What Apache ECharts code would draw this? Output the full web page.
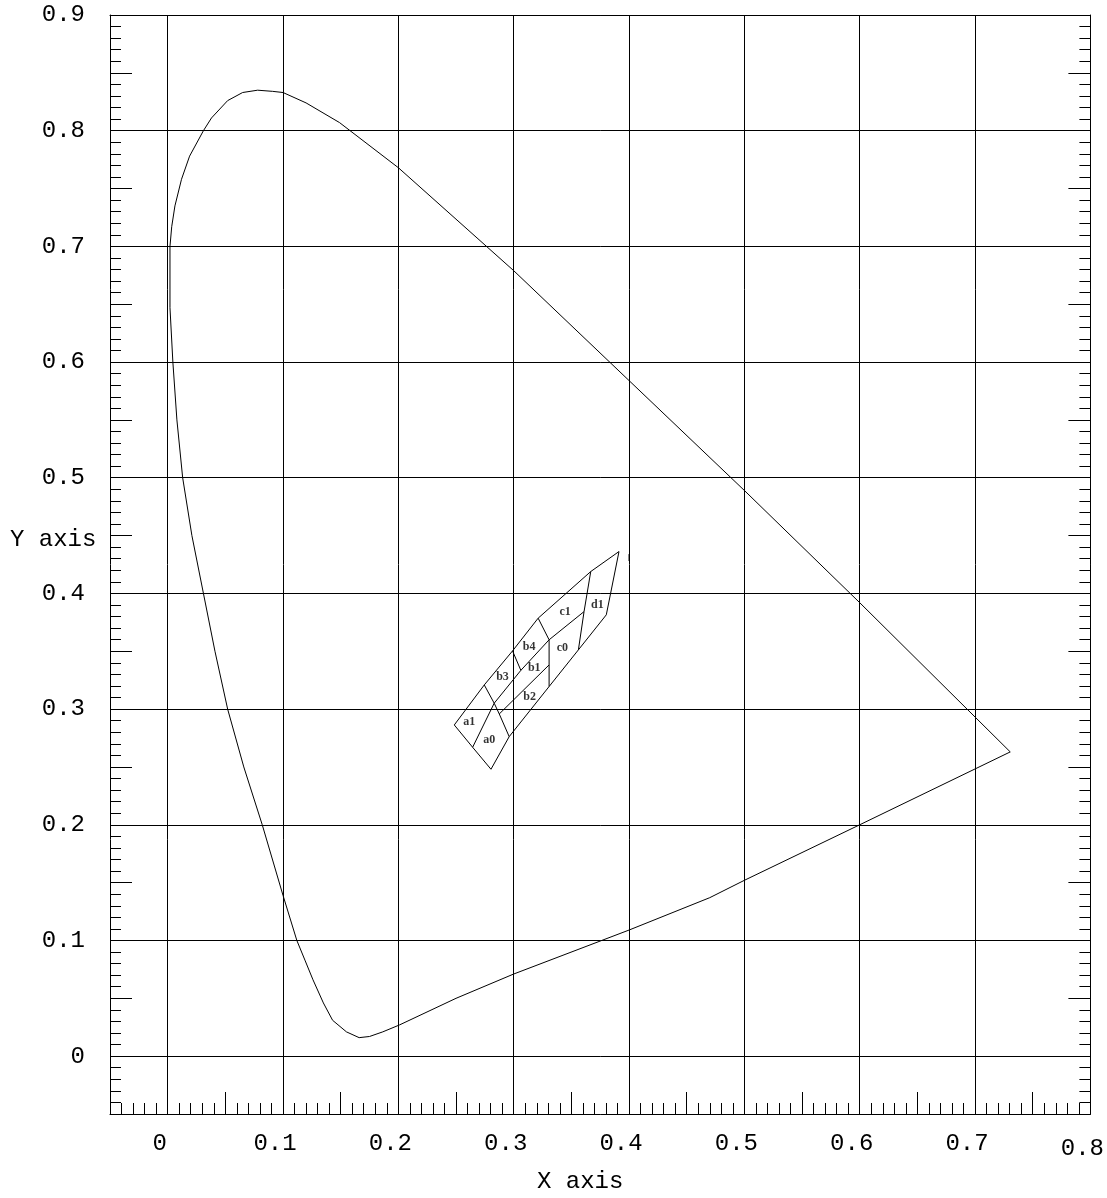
<!DOCTYPE html>
<html>
<head>
<meta charset="utf-8">
<script src="https://cdn.jsdelivr.net/npm/echarts@6/dist/echarts.min.js"></script>
<style>
html, body { margin: 0; padding: 0; background: #fff; }
#chart { width: 1107px; height: 1198px; }
</style>
</head>
<body>
<div id="chart"></div>
<script>
// spectral locus, drawn as one closed outline (x, y)
const locus = [
  [0.7305, 0.263], [0.6, 0.392], [0.5, 0.489], [0.4, 0.584], [0.3, 0.679],
  [0.2, 0.768], [0.149, 0.807], [0.120, 0.824], [0.100, 0.833], [0.091, 0.834],
  [0.078, 0.835], [0.065, 0.833], [0.052, 0.826], [0.038, 0.811], [0.031, 0.800],
  [0.019, 0.778], [0.012, 0.758], [0.0063, 0.735], [0.0035, 0.717], [0.002, 0.700],
  [0.002, 0.647], [0.0045, 0.600], [0.008, 0.550], [0.013, 0.500], [0.021, 0.450],
  [0.031, 0.400], [0.041, 0.350], [0.052, 0.300], [0.066, 0.250], [0.082, 0.200],
  [0.100, 0.139], [0.112, 0.100], [0.119, 0.083], [0.126, 0.066], [0.135, 0.046],
  [0.143, 0.031], [0.155, 0.021], [0.166, 0.016], [0.175, 0.017], [0.1865, 0.021],
  [0.201, 0.027], [0.25, 0.050], [0.3, 0.071], [0.4, 0.109], [0.47, 0.137],
  [0.5, 0.152], [0.6, 0.200], [0.7305, 0.263]
]

// mesh of cells: long lines, lower-left to upper-right
const meshTop = [[0.2485, 0.2863], [0.2745, 0.3209], [0.2990, 0.3503], [0.3212, 0.3786], [0.3668, 0.4189], [0.3913, 0.4362]]
const meshMid1 = [[0.2644, 0.2670], [0.2831, 0.3051], [0.3062, 0.3335], [0.3307, 0.3599], [0.3610, 0.3843]]
const meshMid2 = [[0.2875, 0.2958], [0.3307, 0.3382]]
const meshBottom = [[0.2803, 0.2480], [0.2961, 0.2762], [0.3307, 0.3195], [0.3561, 0.3512], [0.3803, 0.3815]]

// cell names and where they sit
const cellNames = ['a1', 'a0', 'b3', 'b4', 'b1', 'b2', 'c0', 'c1', 'd1']
const cellPos = [[0.2615, 0.2892], [0.2788, 0.2734], [0.2903, 0.3281], [0.3134, 0.3541], [0.3178, 0.3354],
  [0.3138, 0.3108], [0.3422, 0.3527], [0.3446, 0.3843], [0.3725, 0.3901]]

// small stray mark
const strayMark = [[0.4, 0.428], [0.4, 0.434]]

const xLabelValues = [0, 0.1, 0.2, 0.3, 0.4, 0.5, 0.6, 0.7, 0.8]
const yLabelValues = [0, 0.1, 0.2, 0.3, 0.4, 0.5, 0.6, 0.7, 0.8, 0.9]

const meshLines = [
  meshTop,
  meshBottom,
  meshMid1,
  meshMid2,
  [meshTop[0], meshMid1[0], meshBottom[0]],
  [meshTop[5], meshBottom[4]],
  [meshTop[1], meshMid1[1], meshMid2[0], meshBottom[1]],
  [meshTop[2], meshMid1[2]],
  [meshTop[3], meshMid1[3], meshMid2[1], meshBottom[2]],
  [meshTop[4], meshMid1[4], meshBottom[3]]
]

const labelFont = 'Liberation Mono'

const findLabel = (list, v) => {
  const hit = list.find(t => Math.abs(t - v) < 1e-6)
  if (hit === undefined) return ''
  return hit === 0 ? '0' : hit.toFixed(1)
}

const tickedAxis = (extra) => Object.assign({
  type: 'value',
  interval: 0.05,
  axisLine: { show: true, onZero: false, lineStyle: { color: '#000', width: 1 } },
  axisTick: { show: true, inside: true, length: 22, lineStyle: { color: '#000', width: 1 } },
  minorTick: { show: true, splitNumber: 5, length: 11, lineStyle: { color: '#000', width: 1 } },
  minorSplitLine: { show: false },
  splitLine: { show: false }
}, extra)

const chart = echarts.init(document.getElementById('chart'))

chart.setOption({
  animation: false,
  backgroundColor: '#fff',
  grid: { left: 110, right: 14, top: 15, bottom: 84 },
  xAxis: [
    tickedAxis({
      min: -0.05,
      max: 0.8,
      position: 'bottom',
      splitLine: { show: true, lineStyle: { color: ['rgba(0,0,0,0)', '#000'], width: 1 } },
      axisLabel: {
        show: true,
        margin: 18,
        color: '#000',
        fontFamily: labelFont,
        fontSize: 24,
        padding: [0, 16, 0, 0],
        formatter: v => {
          const s = findLabel(xLabelValues, v)
          return s === '0.8' ? '{low|0.8}' : s
        },
        rich: { low: { fontFamily: labelFont, fontSize: 24, color: '#000', padding: [5, 0, 0, 0] } }
      }
    }),
    {
      type: 'value',
      min: -0.05,
      max: 0.8,
      position: 'top',
      axisLine: { show: true, onZero: false, lineStyle: { color: '#000', width: 1 } },
      axisTick: { show: false },
      axisLabel: { show: false },
      splitLine: { show: false }
    }
  ],
  yAxis: [
    tickedAxis({
      min: -0.05,
      max: 0.9,
      position: 'left',
      splitLine: { show: true, lineStyle: { color: ['rgba(0,0,0,0)', '#000'], width: 1 } },
      axisLabel: {
        show: true,
        margin: 25,
        color: '#000',
        fontFamily: labelFont,
        fontSize: 24,
        padding: [10, 0, 0, 0],
        formatter: v => findLabel(yLabelValues, v)
      }
    }),
    tickedAxis({
      min: -0.05,
      max: 0.9,
      position: 'right',
      axisLabel: { show: false }
    })
  ],
  graphic: [
    {
      type: 'text',
      left: 10,
      top: 528,
      style: { text: 'Y axis', font: '24px "Liberation Mono"', fill: '#000' }
    },
    {
      type: 'text',
      left: 537,
      top: 1170,
      style: { text: 'X axis', font: '24px "Liberation Mono"', fill: '#000' }
    }
  ],
  series: [
    {
      type: 'line',
      data: locus,
      showSymbol: false,
      silent: true,
      lineStyle: { color: '#000', width: 1 }
    },
    {
      type: 'lines',
      coordinateSystem: 'cartesian2d',
      polyline: true,
      silent: true,
      lineStyle: { color: '#000', width: 1, opacity: 1 },
      data: meshLines.map(c => ({ coords: c }))
    },
    {
      type: 'line',
      data: strayMark,
      showSymbol: false,
      silent: true,
      lineStyle: { color: '#000', width: 1 }
    },
    {
      type: 'scatter',
      symbolSize: 0,
      silent: true,
      data: cellPos.map((p, i) => ({ value: p, name: cellNames[i] })),
      label: {
        show: true,
        position: 'inside',
        formatter: '{b}',
        color: '#000',
        fontFamily: 'Liberation Serif',
        fontWeight: 'bold',
        fontSize: 12
      }
    }
  ]
})
</script>
</body>
</html>
